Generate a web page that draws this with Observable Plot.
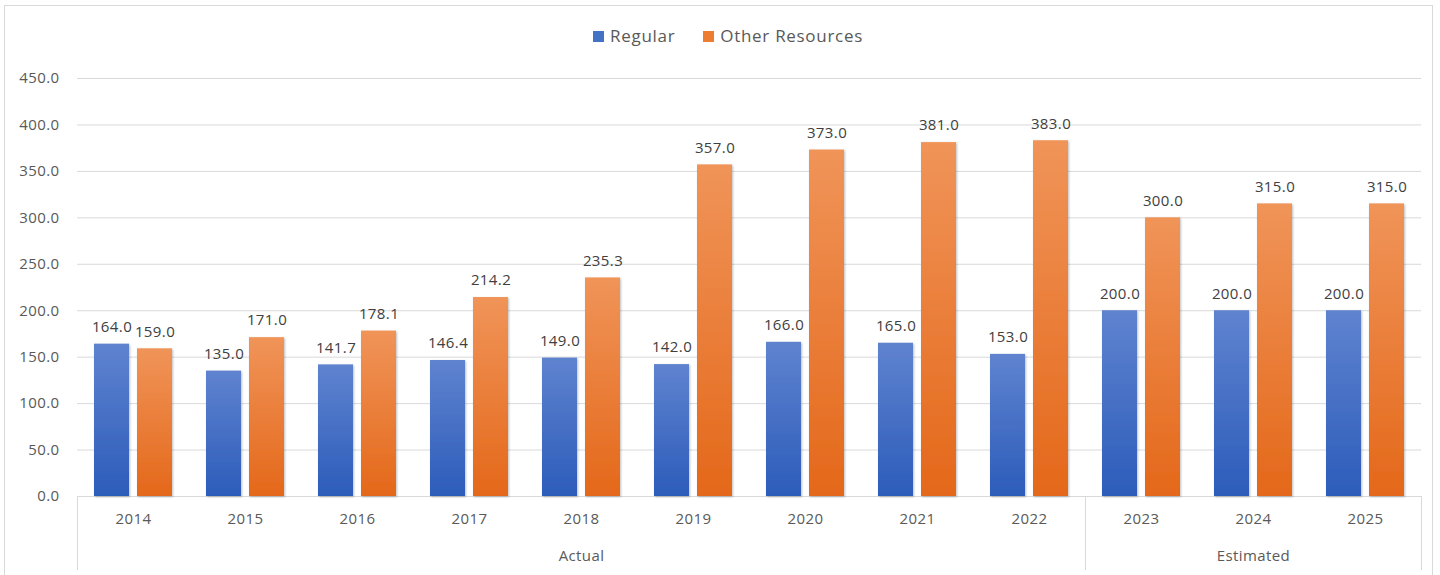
<!DOCTYPE html>
<html><head><meta charset="utf-8">
<script src="https://cdn.jsdelivr.net/npm/d3@7"></script>
<script src="https://cdn.jsdelivr.net/npm/@observablehq/plot@0.6"></script>
<style>
html,body{margin:0;padding:0;background:#fff;font-family:"Open Sans",sans-serif;overflow:hidden;}
#frame{position:absolute;left:4px;top:5px;width:1429px;height:640px;border:1px solid #d9d9d9;box-sizing:border-box;}
#legend{position:absolute;top:23px;left:8px;width:1440px;text-align:center;font-size:17px;letter-spacing:0.7px;color:#595959;line-height:26px;white-space:nowrap;}
#legend span.item{display:inline-block;margin:0 14px;}
#legend span.sw{display:inline-block;width:11px;height:11px;margin-right:6px;vertical-align:0px;}
#chart{position:absolute;top:60px;left:0;}
#chart text{letter-spacing:0.4px;}
</style></head>
<body>
<div id="frame"></div>
<div id="legend"></div>
<div id="chart"></div>
<script>
const years = ["2014","2015","2016","2017","2018","2019","2020","2021","2022","2023","2024","2025"];
const regular = [164.0,135.0,141.7,146.4,149.0,142.0,166.0,165.0,153.0,200.0,200.0,200.0];
const otherResources = [159.0,171.0,178.1,214.2,235.3,357.0,373.0,381.0,383.0,300.0,315.0,315.0];
const seriesNames = ["Regular","Other Resources"];
const seriesColors = ["#4472c4","#ed7d31"];
const yTicks = [0,50,100,150,200,250,300,350,400,450];
const groupLabels = ["Actual","Estimated"];
const groupCenters = ["2018","2024"];
const groupEdgesLeft = ["2014","2023"];
const groupEdgesRight = ["2025"];

const regData = years.map((y,i)=>({year:y, value:regular[i]}));
const othData = years.map((y,i)=>({year:y, value:otherResources[i]}));
const groupData = groupLabels.map((g,i)=>({label:g, at:groupCenters[i]}));

// legend
const leg = document.getElementById("legend");
seriesNames.forEach((s,i)=>{
  const it = document.createElement("span"); it.className="item";
  const sw = document.createElement("span"); sw.className="sw"; sw.style.background=seriesColors[i];
  it.appendChild(sw); it.appendChild(document.createTextNode(s));
  leg.appendChild(it);
});

const W = 1440, H = 515, ML = 77, MR = 19, MT = 18, MB = 79;
const half = (W-ML-MR)/years.length/2;

const plot = Plot.plot({
  width: W, height: H,
  marginLeft: ML, marginRight: MR, marginTop: MT, marginBottom: MB,
  style: {fontFamily: "Open Sans", fontSize: "15px", color: "#595959", background: "transparent", overflow: "visible"},
  x: {type: "band", domain: years, padding: 0, axis: null},
  y: {domain: [0,450], axis: null},
  marks: [
    Plot.ruleY(yTicks, {stroke: "#d9d9d9", strokeWidth: 1}),
    Plot.axisY(yTicks, {tickSize: 0, tickPadding: 18, tickFormat: d=>d.toFixed(1), fill: "#595959", fontSize: 15, label: null}),
    Plot.barY(regData, {x: "year", y: "value", fill: "url(#gBlue)", insetLeft: 17, insetRight: 60}),
    Plot.barY(othData, {x: "year", y: "value", fill: "url(#gOrange)", insetLeft: 60, insetRight: 17}),
    Plot.text(regData, {x: "year", y: "value", text: d=>d.value.toFixed(1), dx: -21.5, dy: -17, fill: "#404040", fontSize: 15}),
    Plot.text(othData, {x: "year", y: "value", text: d=>d.value.toFixed(1), dx: 21.5, dy: -17, fill: "#404040", fontSize: 15}),
    Plot.text(years, {x: d=>d, frameAnchor: "bottom", dy: 23, lineAnchor: "middle", fill: "#595959", fontSize: 15}),
    Plot.text(groupData, {x: "at", text: "label", frameAnchor: "bottom", dy: 60, lineAnchor: "middle", fill: "#595959", fontSize: 15}),
    Plot.axisX(groupEdgesLeft, {tickSize: 74, tickFormat: ()=>"", dx: -half, stroke: "#d9d9d9", label: null}),
    Plot.axisX(groupEdgesRight, {tickSize: 74, tickFormat: ()=>"", dx: half, stroke: "#d9d9d9", label: null})
  ]
});

const svg = d3.select(plot);
const defs = svg.insert("defs", ":first-child");
const mk = (id, top, bot) => {
  const g = defs.append("linearGradient").attr("id", id).attr("x1",0).attr("y1",0).attr("x2",0).attr("y2",1);
  g.append("stop").attr("offset","0%").attr("stop-color",top);
  g.append("stop").attr("offset","100%").attr("stop-color",bot);
};
mk("gBlue", "#5f83cf", "#2c5cba");
mk("gOrange", "#f09459", "#e4681a");
const f = defs.append("filter").attr("id","shadow").attr("x","-20%").attr("y","-20%").attr("width","140%").attr("height","140%");
f.append("feDropShadow").attr("dx",1).attr("dy",1).attr("stdDeviation",1.2).attr("flood-color","#000").attr("flood-opacity",0.25);
svg.selectAll("g[fill^='url']").attr("filter","url(#shadow)");

document.getElementById("chart").appendChild(plot);
</script>
</body></html>
